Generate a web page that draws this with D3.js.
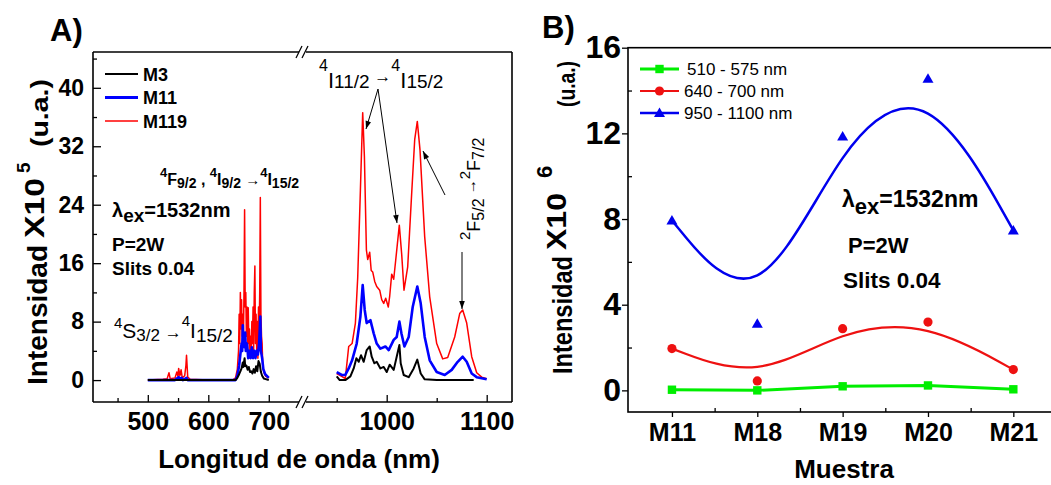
<!DOCTYPE html>
<html><head><meta charset="utf-8">
<script src="https://cdn.jsdelivr.net/npm/d3@7"></script>
<style>
body{margin:0;background:#fff;}
svg{display:block;font-family:"Liberation Sans",Arial,sans-serif;}
text{white-space:pre;}
</style></head><body>
<svg id="c" width="1051" height="485"></svg>
<script>
// ---------------- DATA: panel A (spectra) ----------------
const seriesNamesA = ["M3", "M11", "M119"];
const yTicksA = [0, 8, 16, 24, 32, 40];
const yMinorA = [4, 12, 20, 28, 36, 44];
const xTicksVis = [500, 600, 700];
const xMinorVis = [450, 550, 650];
const xTicksNir = [1000, 1100];
const xMinorNir = [950, 1050];

const m119Vis = [[500,0],[525,0.1],[532,0.2],[535,1.0],[537,0.2],[545,0.3],[548,1.1],[550,0.5],[551,1.6],[553,0.6],[555,1.4],[557,0.3],[561,0.6],[563,2.0],[564,3.4],[566,0.4],[570,0.1],[600,0],[640,0],[645,0.3],[648,1.5],[650,4],[651,9],[652,5],[653,12],[654,7],[655,11],[656,6],[657,9],[658,5],[659,12],[660,23.3],[661,10],[662,12],[663,6],[664,10],[665,4],[666,9.9],[667,5],[668,7],[669,3],[670,6],[671,4],[672,8],[673,5],[674,10],[675,4],[676,12],[677,15.6],[678,5],[679,9],[680,4],[681,8],[682,3],[683,10],[684,6],[685,12],[686,25],[687,9],[688,6],[689,5],[690,2],[692,1],[695,0.5],[700,0.3]];
const m11Vis = [[500,0],[545,0],[548,0.2],[551,0.4],[553,0.1],[556,0.3],[558,0],[564,0.3],[566,0],[600,0],[645,0],[648,0.6],[651,2],[653,3.5],[655,5],[656,4],[657,7.5],[658,5],[659,6],[660,4.5],[661,6.5],[662,4],[664,5],[666,3],[668,4],[670,3],[672,4.5],[674,3],[676,4],[678,3],[680,4],[682,3.5],[684,5],[686,8.7],[687,4],[689,3],[691,1.5],[694,0.8],[700,0.3]];
const m3Vis = [[500,0],[600,0],[645,0],[648,0.3],[651,0.8],[653,1.2],[655,1.6],[657,2.4],[658,1.8],[660,3.0],[661,1.9],[663,2.0],[665,1.4],[667,1.8],[669,1.1],[671,1.2],[673,0.9],[675,1.5],[677,1.0],[679,1.9],[681,1.2],[683,2.6],[685,2.2],[687,1.1],[689,0.6],[692,0.2],[700,0]];

const m119Nir = [[950,0.9],[955,0.5],[958.6,0.2],[962,4.6],[965.4,5],[968.7,7.8],[971,14],[973.7,26],[976,36.6],[977.7,30.6],[979.7,17.8],[981,16.5],[983,17.5],[984.5,15],[986,14.8],[988,13.5],[990,12.8],[993,12.3],[995,11],[997,10.5],[999,11.2],[1001.6,10],[1003,11.5],[1005,14.5],[1007,13.8],[1009,16.4],[1012.6,21.2],[1015,17.2],[1017.3,12.3],[1021,15.5],[1025,25.6],[1028,32.9],[1030.6,35.4],[1033.3,31.5],[1038,19.6],[1043,11.4],[1050,5],[1056,2.9],[1061,3.1],[1068,5.9],[1073,9.1],[1076,9.6],[1080,7.8],[1085,3.2],[1090,1.0],[1095,0.4],[1100,0.2]];
const m11Nir = [[950,1.1],[955,0.7],[958.6,0.7],[962,1.6],[965.4,2.7],[970,5],[973.7,8.7],[976,13],[978,9.6],[980,7.8],[983.7,8.2],[987,6.4],[990,5],[993.7,4.3],[998.7,4.6],[1002,4.1],[1007,5.5],[1010,5.9],[1012.7,8],[1014.7,6.4],[1017.7,4.6],[1022,5.9],[1026,10],[1030.6,12.8],[1034,10.5],[1038,5.9],[1043,2.7],[1050,1.1],[1058,0.7],[1065,1.4],[1071,2.5],[1076,3.2],[1080,2.5],[1085,0.9],[1090,0.4],[1100,0.1]];
const m3Nir = [[950,0.5],[953,0],[958.6,0],[963.7,0.5],[967,1.6],[969.7,3],[972,2.5],[974.3,3.4],[977,2.5],[980,4.1],[983,4.6],[985,3.2],[987.7,2.3],[990,2.5],[993.7,1.6],[997,1.8],[1000,1.1],[1003,2.1],[1007,1.4],[1010,3.2],[1012.7,4.8],[1014,2.3],[1017,0.7],[1022,0.4],[1027,1.6],[1030.6,2.8],[1034,0.9],[1038,0.1],[1050,0],[1087,0]];

// ---------------- DATA: panel B ----------------
const samplesB = ["M11", "M18", "M19", "M20", "M21"];
const green510 = [0.03, 0.0, 0.19, 0.23, 0.05];
const red640 = [1.95, 0.44, 2.88, 3.19, 0.97];
const blue950 = [7.93, 3.11, 11.85, 14.55, 7.47];
const seriesLabelsB = ["510 - 575 nm", "640 - 700 nm", "950 - 1100 nm"];
const yTicksB = [0, 4, 8, 12, 16];
const yMinorB = [2, 6, 10, 14];

// ---------------- DRAW ----------------
const svg = d3.select("#c");
const BLK = "#000";

function rich(parent, x, y, parts, base) {
  const t = parent.append("text").attr("x", x).attr("y", y)
    .attr("font-size", base.fs).attr("font-weight", base.fw || "normal").attr("fill", BLK);
  let cur = 0;
  parts.forEach(p => {
    const txt = p[0], shift = p[1] || 0, fs = p[2] || base.fs;
    const ts = t.append("tspan").attr("dy", shift - cur).attr("font-size", fs).text(txt);
    if (p[3] !== undefined) ts.attr("dx", p[3]);
    cur = shift;
  });
  return t;
}
function arrow(parent, x1, y1, x2, y2) {
  parent.append("line").attr("x1", x1).attr("y1", y1).attr("x2", x2).attr("y2", y2)
    .attr("stroke", BLK).attr("stroke-width", 1);
  const a = Math.atan2(y2 - y1, x2 - x1), L = 8, W = 2.8;
  const bx = x2 - L * Math.cos(a), by = y2 - L * Math.sin(a);
  const px = -Math.sin(a) * W, py = Math.cos(a) * W;
  parent.append("path").attr("d", `M${x2},${y2}L${bx + px},${by + py}L${bx - px},${by - py}Z`).attr("fill", BLK);
}

// ===== Panel A =====
const A = { l: 93, r: 512, t: 52, b: 402, brk1: 299, brk2: 306 };
const gA = svg.append("g");
const yA = d3.scaleLinear().domain([-3, 44.9]).range([A.b, A.t]);
const xVis = d3.scaleLinear().domain([409.4, 751.6]).range([A.l, 300]);
const xNir = d3.scaleLinear().domain([918.3, 1125.3]).range([305, A.r]);

const specA = [
  { vis: m119Vis, nir: m119Nir, color: "#ff0000", w: 1.5 },
  { vis: m11Vis, nir: m11Nir, color: "#0000ff", w: 2.6 },
  { vis: m3Vis, nir: m3Nir, color: "#000000", w: 2.0 }
];
specA.forEach(s => {
  const lv = d3.line().x(d => xVis(d[0])).y(d => yA(d[1]));
  const ln = d3.line().x(d => xNir(d[0])).y(d => yA(d[1]));
  gA.append("path").attr("d", lv(s.vis)).attr("fill", "none").attr("stroke", s.color).attr("stroke-width", s.w).attr("stroke-linejoin", "round");
  gA.append("path").attr("d", ln(s.nir)).attr("fill", "none").attr("stroke", s.color).attr("stroke-width", s.w).attr("stroke-linejoin", "round");
});

// frame with breaks
const fr = gA.append("g").attr("stroke", BLK).attr("stroke-width", 1.6).attr("fill", "none");
fr.append("line").attr("x1", A.l).attr("y1", A.t).attr("x2", A.l).attr("y2", A.b);
fr.append("line").attr("x1", A.r).attr("y1", A.t).attr("x2", A.r).attr("y2", A.b);
[A.t, A.b].forEach(yy => {
  fr.append("line").attr("x1", A.l).attr("y1", yy).attr("x2", A.brk1).attr("y2", yy);
  fr.append("line").attr("x1", A.brk2).attr("y1", yy).attr("x2", A.r).attr("y2", yy);
  fr.append("line").attr("x1", 296).attr("y1", yy + 6).attr("x2", 302).attr("y2", yy - 6).attr("stroke-width", 1.3);
  fr.append("line").attr("x1", 302).attr("y1", yy + 6).attr("x2", 308).attr("y2", yy - 6).attr("stroke-width", 1.3);
});

function styleAxis(g, fs) {
  g.select(".domain").remove();
  g.selectAll(".tick line").attr("stroke", BLK).attr("stroke-width", 1.3);
  g.selectAll(".tick text").attr("font-size", fs).attr("font-weight", "bold").attr("fill", BLK)
    .attr("font-family", '"Liberation Sans",Arial,sans-serif');
}
styleAxis(gA.append("g").attr("transform", `translate(${A.l},0)`)
  .call(d3.axisLeft(yA).tickValues(yTicksA).tickSize(-8).tickPadding(9).tickFormat(d3.format("d"))), 23);
styleAxis(gA.append("g").attr("transform", `translate(${A.l},0)`)
  .call(d3.axisLeft(yA).tickValues(yMinorA).tickSize(-4).tickFormat("")), 10);
styleAxis(gA.append("g").attr("transform", `translate(0,${A.b})`)
  .call(d3.axisBottom(xVis).tickValues(xTicksVis).tickSize(-7).tickPadding(10).tickFormat(d3.format("d"))), 25);
styleAxis(gA.append("g").attr("transform", `translate(0,${A.b})`)
  .call(d3.axisBottom(xVis).tickValues(xMinorVis).tickSize(-4).tickFormat("")), 10);
styleAxis(gA.append("g").attr("transform", `translate(0,${A.b})`)
  .call(d3.axisBottom(xNir).tickValues(xTicksNir).tickSize(-7).tickPadding(10).tickFormat(d3.format("d"))), 25);
styleAxis(gA.append("g").attr("transform", `translate(0,${A.b})`)
  .call(d3.axisBottom(xNir).tickValues(xMinorNir).tickSize(-4).tickFormat("")), 10);

// titles
gA.append("text").attr("x", 50).attr("y", 41).attr("font-size", 31).attr("font-weight", "bold").text("A)");
gA.append("text").attr("x", 299).attr("y", 468).attr("text-anchor", "middle").attr("font-size", 26).attr("font-weight", "bold").text("Longitud de onda (nm)");
const ytA = gA.append("g").attr("transform", "rotate(-90)").attr("font-weight", "bold");
ytA.append("text").attr("x", -385).attr("y", 47).attr("font-size", 27).attr("textLength", 140).attr("lengthAdjust", "spacingAndGlyphs").text("Intensidad");
ytA.append("text").attr("x", -238).attr("y", 44).attr("font-size", 28).attr("textLength", 60).attr("lengthAdjust", "spacingAndGlyphs").text("X10");
ytA.append("text").attr("x", -173).attr("y", 30).attr("font-size", 19).text("5");
ytA.append("text").attr("x", -147).attr("y", 48).attr("font-size", 23).attr("textLength", 68).attr("lengthAdjust", "spacingAndGlyphs").text("(u.a.)");

// legend A
const legA = [{ n: seriesNamesA[0], c: "#000", w: 2.2 }, { n: seriesNamesA[1], c: "#0000ff", w: 3 }, { n: seriesNamesA[2], c: "#ff0000", w: 1.5 }];
legA.forEach((d, i) => {
  const yy = 74 + i * 23.5;
  gA.append("line").attr("x1", 105).attr("x2", 138).attr("y1", yy).attr("y2", yy).attr("stroke", d.c).attr("stroke-width", d.w);
  gA.append("text").attr("x", 143).attr("y", yy + 6.5).attr("font-size", 18).attr("font-weight", "bold").text(d.n);
});

// annotations A
rich(gA, 160, 185, [["4", -8, 13], ["F", 0, 16], ["9/2", 3, 14], [" , ", 0, 16], ["4", -8, 13], ["I", 0, 16], ["9/2", 3, 14], [" \u2192", 0, 15], ["4", -8, 13], ["I", 0, 16], ["15/2", 3, 14]], { fs: 16, fw: "bold" });
rich(gA, 112, 217, [["\u03bb", 0, 20, undefined], ["ex", 5, 19], ["=1532nm", 0, 20]], { fs: 20, fw: "bold" });
gA.append("text").attr("x", 112).attr("y", 251).attr("font-size", 19).attr("font-weight", "bold").text("P=2W");
gA.append("text").attr("x", 112).attr("y", 275).attr("font-size", 19).attr("font-weight", "bold").text("Slits 0.04");
rich(gA, 114, 338, [["4", -10, 15], ["S", 0, 21], ["3/2", 3, 17], [" \u2192", 0, 17], ["4", -12, 15], ["I", 0, 21], ["15/2", 4, 19]], { fs: 20 });
rich(gA, 319, 88, [["4", -17, 16], ["I", 0, 22], ["11/2", 0, 19], [" \u2192", -6, 17], ["4", -17, 16], ["I", 0, 22], ["15/2", 0, 19]], { fs: 20 });
const vt = gA.append("g").attr("transform", "translate(480,240) rotate(-90)");
rich(vt, 0, 0, [["2", -10, 15], ["F", 0, 18], ["5/2", 4, 16], [" \u2192", -4, 15], ["2", -10, 15], ["F", 0, 18], ["7/2", 4, 16]], { fs: 18 });
arrow(gA, 378, 89, 366, 129);
arrow(gA, 378, 89, 397, 223);
arrow(gA, 445, 195, 423, 151);
arrow(gA, 462, 252, 462, 309);

// ===== Panel B =====
const B = { l: 628, r: 1056, t: 47.7, b: 412 };
const gB = svg.append("g");
const xB = d3.scaleLinear().domain([-0.515, 4.5]).range([B.l, B.r]);
const yB = d3.scaleLinear().domain([-1.01, 16]).range([B.b, B.t]);
gB.append("rect").attr("x", B.l).attr("y", B.t).attr("width", B.r - B.l).attr("height", B.b - B.t)
  .attr("fill", "none").attr("stroke", BLK).attr("stroke-width", 1.6);

styleAxis(gB.append("g").attr("transform", `translate(${B.l},0)`)
  .call(d3.axisLeft(yB).tickValues(yTicksB).tickSize(6).tickPadding(1).tickFormat(d3.format("d"))), 32);
styleAxis(gB.append("g").attr("transform", `translate(${B.l},0)`)
  .call(d3.axisLeft(yB).tickValues(yMinorB).tickSize(-4).tickFormat("")), 10);
styleAxis(gB.append("g").attr("transform", `translate(0,${B.b})`)
  .call(d3.axisBottom(xB).tickValues(d3.range(samplesB.length)).tickSize(5).tickPadding(6).tickFormat(i => samplesB[i])), 25);
styleAxis(gB.append("g").attr("transform", `translate(0,${B.b})`)
  .call(d3.axisBottom(xB).tickValues(d3.range(samplesB.length - 1).map(i => i + 0.5)).tickSize(-4).tickFormat("")), 10);

const seriesB = [
  { v: green510, c: "#00ee00", w: 3, curve: d3.curveLinear, m: "square" },
  { v: red640, c: "#ee1111", w: 2.2, curve: d3.curveBasis, m: "circle" },
  { v: blue950, c: "#0000ee", w: 2.5, curve: d3.curveBasis, m: "triangle" }
];
function marker(g, type, x, y, c) {
  if (type === "square") g.append("rect").attr("x", x - 4.2).attr("y", y - 4.2).attr("width", 8.4).attr("height", 8.4).attr("fill", c);
  else if (type === "circle") g.append("circle").attr("cx", x).attr("cy", y).attr("r", 4.6).attr("fill", c);
  else g.append("path").attr("d", `M${x},${y - 5.5}L${x + 5.5},${y + 4}L${x - 5.5},${y + 4}Z`).attr("fill", c);
}
seriesB.forEach(s => {
  const ln = d3.line().x((d, i) => xB(i)).y(d => yB(d)).curve(s.curve);
  gB.append("path").attr("d", ln(s.v)).attr("fill", "none").attr("stroke", s.c).attr("stroke-width", s.w);
  s.v.forEach((d, i) => marker(gB, s.m, xB(i), yB(d), s.c));
});

// legend B
seriesB.forEach((s, i) => {
  const yy = 69 + i * 22;
  gB.append("line").attr("x1", 640).attr("x2", 679).attr("y1", yy).attr("y2", yy).attr("stroke", s.c).attr("stroke-width", s.w);
  marker(gB, s.m, 659.5, yy, s.c);
  gB.append("text").attr("x", i === 0 ? 687 : 684).attr("y", yy + 6).attr("font-size", 17).text(seriesLabelsB[i]);
});

gB.append("text").attr("x", 542).attr("y", 38).attr("font-size", 31).attr("font-weight", "bold").text("B)");
gB.append("text").attr("x", 844).attr("y", 478).attr("text-anchor", "middle").attr("font-size", 26).attr("font-weight", "bold").text("Muestra");
const ytB = gB.append("g").attr("transform", "rotate(-90)").attr("font-weight", "bold");
ytB.append("text").attr("x", -374).attr("y", 572).attr("font-size", 27).attr("textLength", 118).attr("lengthAdjust", "spacingAndGlyphs").text("Intensidad");
ytB.append("text").attr("x", -250).attr("y", 566).attr("font-size", 28).attr("textLength", 57).attr("lengthAdjust", "spacingAndGlyphs").text("X10");
ytB.append("text").attr("x", -178).attr("y", 552).attr("font-size", 22).text("6");
ytB.append("text").attr("x", -107).attr("y", 575).attr("font-size", 23).attr("textLength", 46).attr("lengthAdjust", "spacingAndGlyphs").text("(u.a.)");

rich(gB, 842, 207, [["\u03bb", 0, 23], ["ex", 7, 22], ["=1532nm", 0, 23]], { fs: 23, fw: "bold" });
gB.append("text").attr("x", 848).attr("y", 253).attr("font-size", 22).attr("font-weight", "bold").text("P=2W");
gB.append("text").attr("x", 843).attr("y", 288).attr("font-size", 22.5).attr("font-weight", "bold").text("Slits 0.04");
</script>
</body></html>
